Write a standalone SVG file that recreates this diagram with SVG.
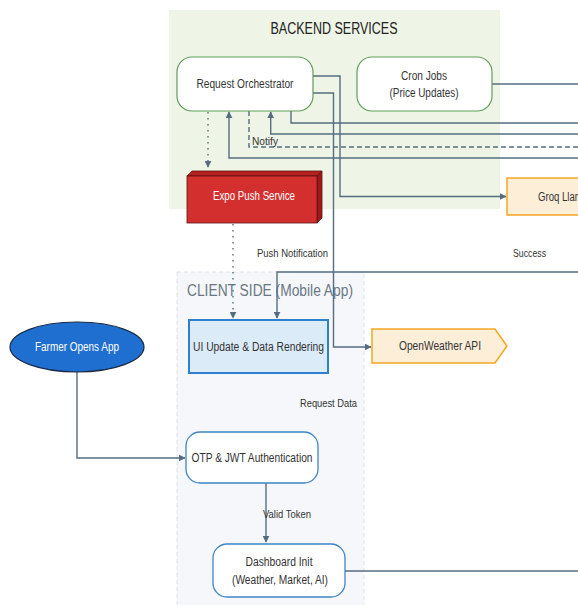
<svg xmlns="http://www.w3.org/2000/svg" width="578" height="605" viewBox="0 0 578 605">
<defs>
<marker id="arr" viewBox="0 0 10 10" refX="9" refY="5" markerWidth="7" markerHeight="7" orient="auto" markerUnits="userSpaceOnUse">
<path d="M0,0 L10,5 L0,10 z" fill="#566d80"/>
</marker>
<style>
text{font-family:"Liberation Sans",Arial,sans-serif;fill:#333;}
.c{stroke:#566d80;stroke-width:1.4;fill:none;}
.lbl{font-size:10.5px;}
.nt{font-size:12px;text-anchor:middle;}
</style>
</defs>
<rect width="578" height="605" fill="#fff"/>
<g id="backend-panel">
<rect x="169" y="10" width="331" height="199" fill="#eef5e6"/>
<text x="334" y="34" font-size="16" text-anchor="middle" textLength="127" lengthAdjust="spacingAndGlyphs" style="fill:#222">BACKEND SERVICES</text>
</g>
<g id="client-panel">
<rect x="177" y="272" width="187" height="340" fill="#f5f7fa" stroke="#dde3ea" stroke-dasharray="4 3"/>
<text x="187" y="296" font-size="16" textLength="166" lengthAdjust="spacingAndGlyphs" style="fill:#6b7785">CLIENT SIDE (Mobile App)</text>
</g>
<g id="connectors">
<path class="c" d="M313,76 H340 V196.5 H506" marker-end="url(#arr)"/>
<path class="c" d="M313,93 H333.5 V347 H371" marker-end="url(#arr)"/>
<path class="c" d="M291,111 V123 H578"/>
<path class="c" d="M578,134 H270.7 V112" marker-end="url(#arr)"/>
<path class="c" d="M249,111 V147 H578" stroke-dasharray="5 3"/>
<path class="c" d="M578,158 H229 V112" marker-end="url(#arr)"/>
<path class="c" d="M492,84 H578"/>
<path class="c" d="M208,112 V167" stroke-dasharray="1.5 4.5" marker-end="url(#arr)"/>
<path class="c" d="M233,224 V318" stroke-dasharray="1.5 4.5" marker-end="url(#arr)"/>
<path class="c" d="M578,272 H277 V318" marker-end="url(#arr)"/>
<path class="c" d="M77,372 V458 H185" marker-end="url(#arr)"/>
<path class="c" d="M266,483 V542" marker-end="url(#arr)"/>
<path class="c" d="M345,571 H578"/>
<text class="lbl" x="252" y="145" textLength="26" lengthAdjust="spacingAndGlyphs">Notify</text>
<text class="lbl" x="257" y="257" textLength="71" lengthAdjust="spacingAndGlyphs">Push Notification</text>
<text class="lbl" x="513" y="257" textLength="33" lengthAdjust="spacingAndGlyphs">Success</text>
<text class="lbl" x="300" y="407" textLength="57" lengthAdjust="spacingAndGlyphs">Request Data</text>
<text class="lbl" x="263" y="518" textLength="48" lengthAdjust="spacingAndGlyphs">Valid Token</text>
</g>
<g id="request-orchestrator">
<rect x="177" y="57" width="136" height="54" rx="15" fill="#fff" stroke="#5f9e5a" stroke-width="1.2"/>
<text class="nt" x="245" y="88" textLength="97" lengthAdjust="spacingAndGlyphs">Request Orchestrator</text>
</g>
<g id="cron-jobs">
<rect x="357" y="57" width="135" height="54" rx="15" fill="#fff" stroke="#5f9e5a" stroke-width="1.2"/>
<text class="nt" x="424" y="80" textLength="46" lengthAdjust="spacingAndGlyphs">Cron Jobs</text>
<text class="nt" x="424" y="97" textLength="69" lengthAdjust="spacingAndGlyphs">(Price Updates)</text>
</g>
<g id="expo-push">
<polygon points="187,176 192,171 322,171 317,176" fill="#b52020" stroke="#5a1212" stroke-width="0.8"/>
<polygon points="317,176 322,171 322,218 317,223" fill="#9e1a1a" stroke="#5a1212" stroke-width="0.8"/>
<rect x="187" y="176" width="130" height="47" fill="#d42f2f" stroke="#5a1212" stroke-width="0.8"/>
<text class="nt" x="254" y="200" textLength="82" lengthAdjust="spacingAndGlyphs" style="fill:#fff">Expo Push Service</text>
</g>
<g id="groq">
<rect x="507" y="178" width="80" height="37" fill="#fdeed8" stroke="#f5a623" stroke-width="1.5"/>
<text x="538" y="201" font-size="12" textLength="50" lengthAdjust="spacingAndGlyphs">Groq Llama</text>
</g>
<g id="ui-update">
<rect x="189" y="320" width="139" height="53" fill="#dcebf8" stroke="#2f7fd0" stroke-width="2"/>
<text class="nt" x="258.5" y="351" textLength="131" lengthAdjust="spacingAndGlyphs">UI Update &amp; Data Rendering</text>
</g>
<g id="openweather">
<polygon points="372,329 495,329 507,346 495,363 372,363" fill="#fdeed8" stroke="#f5a623" stroke-width="1.5"/>
<text class="nt" x="440" y="350" textLength="82" lengthAdjust="spacingAndGlyphs">OpenWeather API</text>
</g>
<g id="farmer">
<ellipse cx="77" cy="347" rx="67" ry="25" fill="#1f6fd1" stroke="#1a2a45" stroke-width="1.2"/>
<text class="nt" x="77" y="351" textLength="84" lengthAdjust="spacingAndGlyphs" style="fill:#fff">Farmer Opens App</text>
</g>
<g id="otp">
<rect x="186" y="432" width="132" height="51" rx="14" fill="#fff" stroke="#3d85c6" stroke-width="1.3"/>
<text class="nt" x="252" y="462" textLength="121" lengthAdjust="spacingAndGlyphs">OTP &amp; JWT Authentication</text>
</g>
<g id="dashboard">
<rect x="213" y="544" width="132" height="53" rx="14" fill="#fff" stroke="#3d85c6" stroke-width="1.3"/>
<text class="nt" x="279" y="566" textLength="67" lengthAdjust="spacingAndGlyphs">Dashboard Init</text>
<text class="nt" x="280" y="584" textLength="96" lengthAdjust="spacingAndGlyphs">(Weather, Market, AI)</text>
</g>
</svg>
